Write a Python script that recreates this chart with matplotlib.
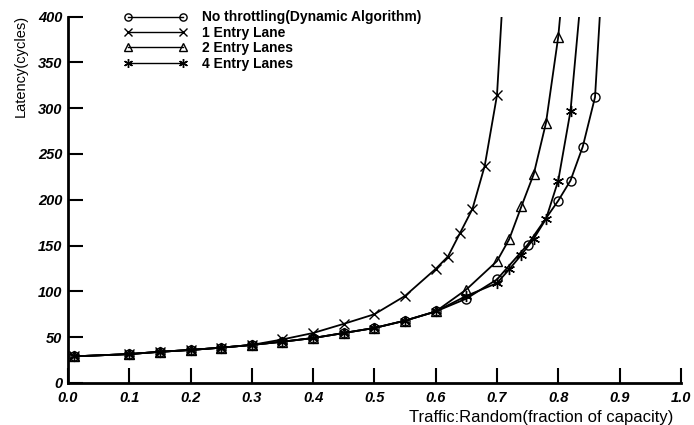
import matplotlib.pyplot as plt

plt.rcParams['font.family'] = ['Liberation Sans', 'DejaVu Sans']

# data
x_none = [0.01, 0.1, 0.15, 0.2, 0.25, 0.3, 0.35, 0.4, 0.45, 0.5, 0.55, 0.6,
          0.65, 0.7, 0.75, 0.8, 0.82, 0.84, 0.86, 0.87]
y_none = [29, 31.5, 34, 36, 38.5, 41.5, 45, 49, 54.5, 60, 68, 78,
          92, 113, 151, 199, 221, 258, 312, 425]

x_one = [0.01, 0.1, 0.15, 0.2, 0.25, 0.3, 0.35, 0.4, 0.45, 0.5, 0.55, 0.6,
         0.62, 0.64, 0.66, 0.68, 0.7, 0.71]
y_one = [29, 31.5, 34, 36, 38.5, 41.5, 47.5, 54.5, 64.5, 75, 95, 124.5,
         138, 164, 190, 237, 314, 428]

x_two = [0.01, 0.1, 0.15, 0.2, 0.25, 0.3, 0.35, 0.4, 0.45, 0.5, 0.55, 0.6,
         0.65, 0.7, 0.72, 0.74, 0.76, 0.78, 0.8, 0.81]
y_two = [29, 31.5, 34, 36, 38.5, 41.5, 45, 49, 54.5, 60, 68, 78,
         102, 133, 157, 193, 228, 284, 378, 451]

x_four = [0.01, 0.1, 0.15, 0.2, 0.25, 0.3, 0.35, 0.4, 0.45, 0.5, 0.55, 0.6,
          0.65, 0.7, 0.72, 0.74, 0.76, 0.78, 0.8, 0.82, 0.84]
y_four = [29, 31.5, 34, 36, 38.5, 41.5, 45, 49, 54.5, 60, 68, 78,
          95, 109, 124, 140, 157.5, 179, 221, 297, 444]

labels = ["No throttling(Dynamic Algorithm)", "1 Entry Lane",
          "2 Entry Lanes", "4 Entry Lanes"]

fig = plt.figure(figsize=(6.94, 4.25), dpi=100)
ax = fig.add_axes([0.098, 0.099, 0.883, 0.862])

kw = dict(color='black', lw=1.3, mfc='none', mec='black', mew=1.0)
ax.plot(x_none, y_none, marker='o', ms=6.5, label=labels[0], **kw)
ax.plot(x_one, y_one, marker='x', ms=7, label=labels[1], **kw)
ax.plot(x_two, y_two, marker='^', ms=7, label=labels[2], **kw)
ax.plot(x_four, y_four, marker=(6, 2, 0), ms=8, label=labels[3], **kw)

ax.set_xlim(0, 1.0)
ax.set_ylim(0, 400)
ax.set_xticks([i / 10 for i in range(11)])
ax.set_xticklabels(["%.1f" % (i / 10) for i in range(11)])
ax.set_yticks(range(0, 401, 50))

for s in ['top', 'right']:
    ax.spines[s].set_visible(False)
for s in ['left', 'bottom']:
    ax.spines[s].set_linewidth(2)

ax.tick_params(direction='in', length=11, width=1.5)
ax.tick_params(axis='x', pad=6)
ax.tick_params(axis='y', pad=4)
for lab in ax.get_xticklabels() + ax.get_yticklabels():
    lab.set_fontweight('bold')
    lab.set_fontstyle('italic')
    lab.set_fontsize(10.5)

ax.set_ylabel("Latency(cycles)", fontsize=10.5)
ax.yaxis.set_label_coords(-0.066, 0.866)
ax.set_xlabel("Traffic:Random(fraction of capacity)", fontsize=12)
ax.xaxis.set_label_coords(0.772, -0.075)

leg = ax.legend(loc='upper left', bbox_to_anchor=(0.071, 1.051), frameon=False,
                numpoints=2, handlelength=4.55, handletextpad=1.05,
                labelspacing=0.1, markerscale=0.8,
                prop={'weight': 'bold', 'size': 10})
for h in leg.get_lines():
    h.set_linewidth(1.0)

fig.savefig("out.png", dpi=100)
